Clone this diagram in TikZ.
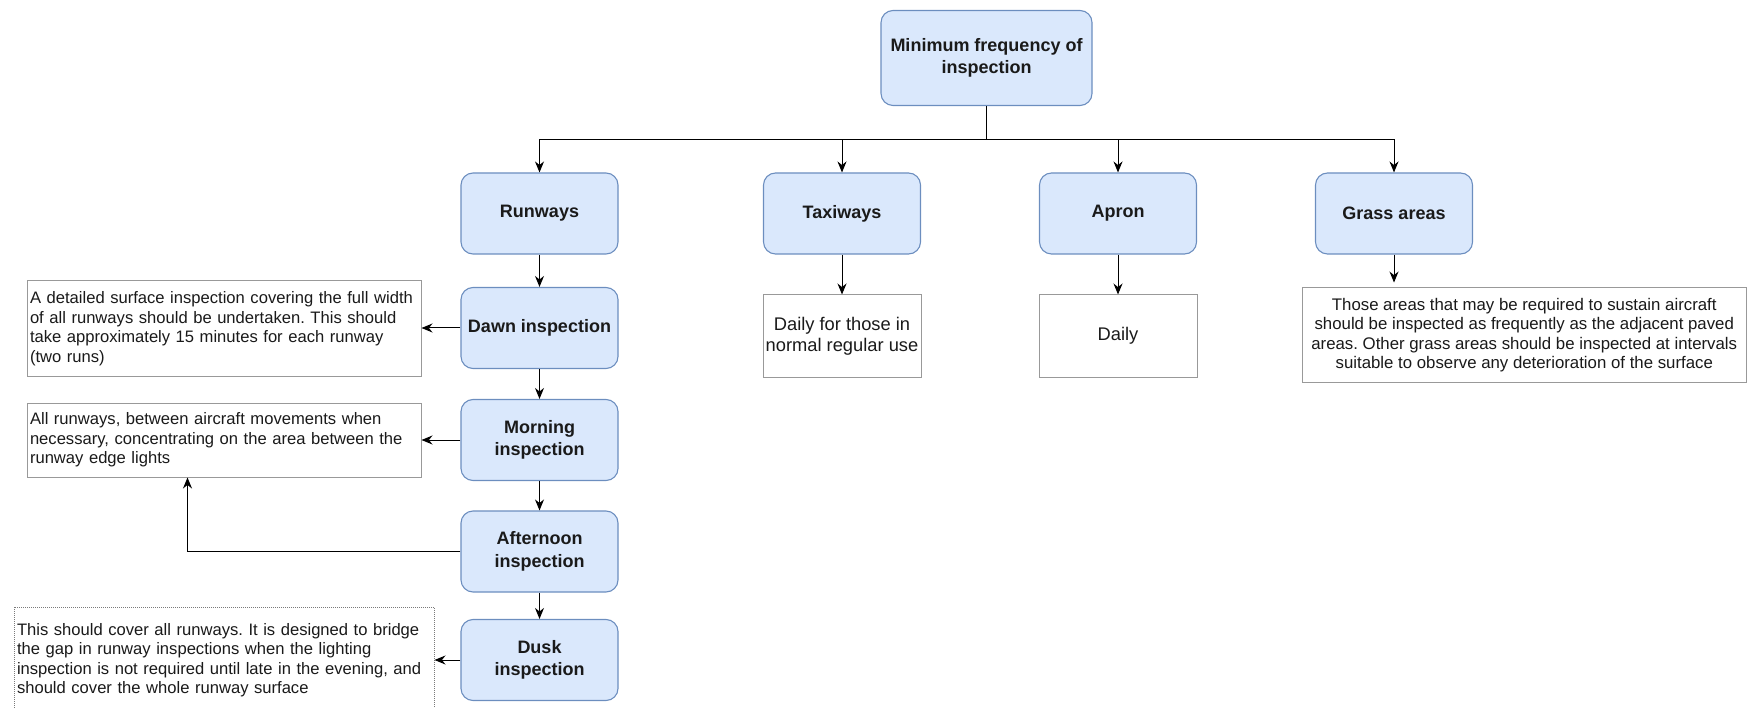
\documentclass[tikz,border=0pt]{standalone}
\usepackage{fontspec}
\setmainfont{Liberation Sans}
\usetikzlibrary{arrows.meta}
\frenchspacing
\definecolor{bluefill}{HTML}{DAE8FC}
\definecolor{bluebd}{HTML}{6C8EBF}
\definecolor{graybd}{HTML}{999999}
\definecolor{txt}{HTML}{1A1A1A}
\tikzset{
  bluebox/.style={draw=bluebd, fill=bluefill, rounded corners=12pt, line width=1.1pt,
    font=\bfseries\fontsize{18}{22.5}\selectfont, align=center, text=txt,
    minimum width=157pt, minimum height=81pt, inner sep=0pt},
  notebox/.style={draw=graybd, line width=1pt, fill=white, text=txt, inner sep=0pt},
  leftnote/.style={notebox, font=\fontsize{16.6}{19.5}\selectfont, align=left, inner xsep=3pt},
  midnote/.style={notebox, font=\fontsize{18.3}{21}\selectfont, align=center,
    minimum width=158pt, minimum height=82pt},
  arr/.style={draw=black, line width=1pt, -{Stealth[length=11pt,width=9pt]}}
}
\begin{document}
\begin{tikzpicture}[x=1pt,y=-1pt]
\useasboundingbox (0,0) rectangle (1747,708);
% main boxes
\node[bluebox, minimum width=211pt, minimum height=95pt] (top) at (986.5,58) {Minimum frequency of\\inspection};
\node[bluebox] (run) at (539.5,213.5) {Runways};
\node[bluebox] (taxi) at (842,213.5) {Taxiways};
\node[bluebox] (apron) at (1118,213.5) {Apron};
\node[bluebox] (grass) at (1394,213.5) {Grass areas};
\node[bluebox] (dawn) at (539.5,328) {Dawn inspection};
\node[bluebox] (morn) at (539.5,440) {Morning\\inspection};
\node[bluebox] (aft) at (539.5,551.5) {Afternoon\\inspection};
\node[bluebox] (dusk) at (539.5,660) {Dusk\\inspection};
% notes
\node[leftnote, text width=388pt, minimum height=95pt] (dawnt) at (224,328.5)
  {A detailed surface inspection covering the full width\\of all runways should be undertaken. This should\\take approximately 15 minutes for each runway\\(two runs)};
\node[leftnote, text width=388pt, minimum height=74pt] (mornt) at (224,440)
  {All runways, between aircraft movements when\\necessary, concentrating on the area between the\\runway edge lights};
\node[leftnote, draw=graybd!80!black, dash pattern=on 1pt off 1pt, line width=1pt,
  text width=414pt, minimum height=106pt] (duskt) at (224,660)
  {This should cover all runways. It is designed to bridge\\the gap in runway inspections when the lighting\\inspection is not required until late in the evening, and\\should cover the whole runway surface};
\node[midnote] (taxit) at (842,336) {Daily for those in\\normal regular use};
\node[midnote] (aprt) at (1118,336) {Daily};
\node[notebox, font=\fontsize{16.8}{19.4}\selectfont, align=center, minimum width=444.5pt, minimum height=94pt] (grasst) at (1524.25,335)
  {Those areas that may be required to sustain aircraft\\should be inspected as frequently as the adjacent paved\\areas. Other grass areas should be inspected at intervals\\suitable to observe any deterioration of the surface};
% connectors
\draw[arr] (top.south) -- ++(0,33) -| (run.north);
\draw[arr] (top.south) -- ++(0,33) -| (taxi.north);
\draw[arr] (top.south) -- ++(0,33) -| (apron.north);
\draw[arr] (top.south) -- ++(0,33) -| (grass.north);
\draw[arr] (run) -- (dawn);
\draw[arr] (dawn) -- (morn);
\draw[arr] (morn) -- (aft);
\draw[arr] (aft) -- (dusk);
\draw[arr] (taxi) -- (taxit);
\draw[arr] (apron) -- (aprt);
\draw[arr] (grass.south) -- ++(0,28);
\draw[arr] (dawn.west) -- (dawnt.east |- dawn.west);
\draw[arr] (morn.west) -- (mornt.east |- morn.west);
\draw[arr] (aft.west) -| ([xshift=161pt]mornt.south west);
\draw[arr] (dusk.west) -- (duskt.east |- dusk.west);
\end{tikzpicture}
\end{document}
